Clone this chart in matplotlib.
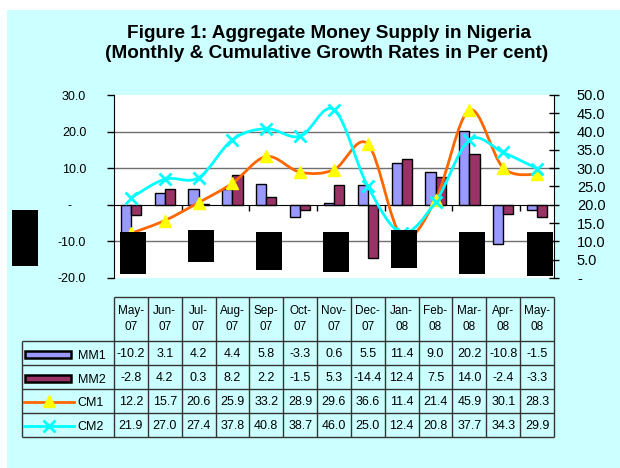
import matplotlib.pyplot as plt
import numpy as np
from matplotlib.path import Path
from matplotlib.patches import PathPatch, Rectangle
from matplotlib.lines import Line2D

plt.rcParams['font.family'] = ['Liberation Sans', 'DejaVu Sans']

months = ['May-07', 'Jun-07', 'Jul-07', 'Aug-07', 'Sep-07', 'Oct-07', 'Nov-07',
          'Dec-07', 'Jan-08', 'Feb-08', 'Mar-08', 'Apr-08', 'May-08']
mm1 = [-10.2, 3.1, 4.2, 4.4, 5.8, -3.3, 0.6, 5.5, 11.4, 9.0, 20.2, -10.8, -1.5]
mm2 = [-2.8, 4.2, 0.3, 8.2, 2.2, -1.5, 5.3, -14.4, 12.4, 7.5, 14.0, -2.4, -3.3]
cm1 = [12.2, 15.7, 20.6, 25.9, 33.2, 28.9, 29.6, 36.6, 11.4, 21.4, 45.9, 30.1, 28.3]
cm2 = [21.9, 27.0, 27.4, 37.8, 40.8, 38.7, 46.0, 25.0, 12.4, 20.8, 37.7, 34.3, 29.9]

left_ticks = [-20, -10, 0, 10, 20, 30]
left_labels = ['-20.0', '-10.0', '-    ', '10.0', '20.0', '30.0']
right_ticks = [0, 5, 10, 15, 20, 25, 30, 35, 40, 45, 50]
right_labels = ['-', '5.0', '10.0', '15.0', '20.0', '25.0', '30.0', '35.0', '40.0', '45.0', '50.0']

C_MM1 = '#9999FF'
C_MM2 = '#993366'
C_CM1 = '#FF6600'
C_CM2 = '#00FFFF'
BG = '#CCFFFF'

W, H = 620, 468


def smooth_path(xs, ys):
    # excel style smoothed line (catmull-rom as cubic bezier)
    pts = list(zip(xs, ys))
    n = len(pts)
    verts = [pts[0]]
    codes = [Path.MOVETO]
    for i in range(n - 1):
        p0 = pts[i - 1] if i > 0 else pts[i]
        p1 = pts[i]
        p2 = pts[i + 1]
        p3 = pts[i + 2] if i + 2 < n else pts[i + 1]
        c1 = (p1[0] + (p2[0] - p0[0]) / 6, p1[1] + (p2[1] - p0[1]) / 6)
        c2 = (p2[0] - (p3[0] - p1[0]) / 6, p2[1] - (p3[1] - p1[1]) / 6)
        verts += [c1, c2, p2]
        codes += [Path.CURVE4] * 3
    return Path(verts, codes)


def px(x0, y0, x1, y1):
    return [x0 / W, 1 - y1 / H, (x1 - x0) / W, (y1 - y0) / H]


fig = plt.figure(figsize=(6.2, 4.68), dpi=100)
fig.patch.set_facecolor('white')
fig.add_artist(Rectangle((7 / W, 0), 1, 1 - 10 / H, transform=fig.transFigure,
                         facecolor=BG, edgecolor='none', zorder=-10))

fig.text(329 / W, 1 - 34 / H, 'Figure 1: Aggregate Money Supply in Nigeria',
         ha='center', va='center', fontsize=13.7, fontweight='bold')
fig.text(327 / W, 1 - 54 / H, '(Monthly & Cumulative Growth Rates in Per cent)',
         ha='center', va='center', fontsize=13.7, fontweight='bold')

x = np.arange(len(months))

ax = fig.add_axes(px(114, 95, 554, 278))
ax.set_facecolor('white')
ax.bar(x - 0.15, mm1, 0.3, color=C_MM1, edgecolor='black', linewidth=1, zorder=2)
ax.bar(x + 0.15, mm2, 0.3, color=C_MM2, edgecolor='black', linewidth=1, zorder=2)
for v in [-10, 10, 20]:
    ax.axhline(v, color='#707070', linewidth=1, zorder=1)
ax.set_xlim(-0.5, len(months) - 0.5)
ax.set_ylim(-20, 30)
ax.set_yticks(left_ticks)
ax.set_yticklabels(left_labels, fontsize=9)
ax.tick_params(axis='y', direction='out', length=5, width=1, pad=15)
ax.spines['top'].set_visible(False)
ax.spines['right'].set_visible(False)
ax.spines['bottom'].set_position(('data', 0))
ax.spines['bottom'].set_zorder(3)
ax.set_xticks(np.arange(1.5, len(months) - 1, 2))
ax.set_xticklabels([])
ax.tick_params(axis='x', direction='out', length=4, width=1)

ax2 = ax.twinx()
ax2.set_ylim(0, 50)
ax2.set_yticks(right_ticks)
ax2.set_yticklabels(right_labels, fontsize=10.5)
ax2.tick_params(axis='y', direction='inout', length=7, width=1, pad=13)
for s in ['top', 'left', 'bottom']:
    ax2.spines[s].set_visible(False)
ax2.add_patch(PathPatch(smooth_path(x, cm1), fill=False, edgecolor=C_CM1, linewidth=2))
ax2.add_patch(PathPatch(smooth_path(x, cm2), fill=False, edgecolor=C_CM2, linewidth=2))
ax2.plot(x, cm1, linestyle='none', marker='^', markersize=9, color='#FFFF00',
         markeredgecolor='#FFFF00')
ax2.plot(x, cm2, linestyle='none', marker='x', markersize=8, markeredgewidth=2,
         color=C_CM2)

# data table
unit = (554 - 114) / len(months)
tab_left = 21.7
tab = fig.add_axes(px(tab_left, 297, 554, 437))
tab.set_axis_off()
x_min = -0.5 - (114 - tab_left) / unit
tab.set_xlim(x_min, len(months) - 0.5)
hh = 1.85
tab.set_ylim(hh + 4, 0)
lc = '#333333'
tab.hlines(0, -0.5, len(months) - 0.5, color=lc, lw=1, clip_on=False)
for r in range(5):
    tab.hlines(hh + r, x_min, len(months) - 0.5, color=lc, lw=1, clip_on=False)
tab.vlines(x_min, hh, hh + 4, color=lc, lw=1, clip_on=False)
for k in range(len(months) + 1):
    tab.vlines(k - 0.5, 0, hh + 4, color=lc, lw=1, clip_on=False)

for i, m in enumerate(months):
    mon, yr = m.split('-')
    tab.text(i, hh / 2, mon + '-\n' + yr, ha='center', va='center', fontsize=8.5,
             linespacing=1.5)

rows = [('MM1', mm1), ('MM2', mm2), ('CM1', cm1), ('CM2', cm2)]
for r, (name, vals) in enumerate(rows):
    yc = hh + r + 0.55
    for i, v in enumerate(vals):
        tab.text(i, yc, '%.1f' % v, ha='center', va='center', fontsize=9)
    tab.text(x_min + 56 / unit, yc + 0.05, name, ha='left', va='center', fontsize=9)

hx0 = x_min + 3.5 / unit
hx1 = x_min + 49 / unit
tab.add_patch(Rectangle((hx0, hh + 0.42), hx1 - hx0, 0.28, facecolor=C_MM1,
                        edgecolor='black', lw=1.8))
tab.add_patch(Rectangle((hx0, hh + 1.42), hx1 - hx0, 0.28, facecolor=C_MM2,
                        edgecolor='black', lw=1.8))
lx0 = x_min + 2.5 / unit
lx1 = x_min + 52 / unit
tab.add_line(Line2D([lx0, lx1], [hh + 2.55, hh + 2.55], color=C_CM1, lw=2))
tab.add_line(Line2D([(lx0 + lx1) / 2], [hh + 2.5], marker='^', markersize=9,
                    color='#FFFF00', linestyle='none'))
tab.add_line(Line2D([lx0, lx1], [hh + 3.55, hh + 3.55], color=C_CM2, lw=2))
tab.add_line(Line2D([(lx0 + lx1) / 2], [hh + 3.55], marker='x', markersize=8,
                    markeredgewidth=2, color=C_CM2, linestyle='none'))

# black blocks over the picture
blocks = [(12, 210, 38, 266), (120, 232, 146, 274), (188, 230, 214, 262),
          (256, 232, 282, 270), (323, 232, 349, 272), (391, 230, 417, 268),
          (459, 232, 485, 274), (527, 232, 553, 276)]
for b in blocks:
    r = px(*b)
    fig.add_artist(Rectangle((r[0], r[1]), r[2], r[3], transform=fig.transFigure,
                             facecolor='black', edgecolor='none', zorder=10))

fig.savefig('out.png', dpi=100)
